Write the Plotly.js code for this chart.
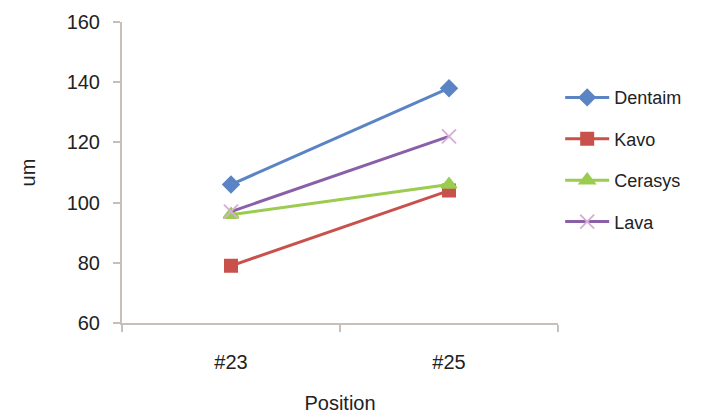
<!DOCTYPE html>
<html>
<head>
<meta charset="utf-8">
<script src="https://cdn.plot.ly/plotly-3.0.1.min.js"></script>
<style>html,body{margin:0;padding:0;background:#fff;}#chart{width:702px;height:417px;}</style>
</head>
<body>
<div id="chart"></div>
<script>
const positions = ["#23", "#25"];
const seriesNames = ["Dentaim", "Kavo", "Cerasys", "Lava"];
const dentaim = [106, 138];
const kavo = [79, 104];
const cerasys = [96, 106];
const lava = [97, 122];
const yTicks = [60, 80, 100, 120, 140, 160];

const styles = [
  {color: "#5B84C4", symbol: "diamond", mcolor: "#5B84C4", size: 12},
  {color: "#C9514B", symbol: "square", mcolor: "#C9514B", size: 12},
  {color: "#9BCB4F", symbol: "triangle-up", mcolor: "#9BCB4F", size: 13},
  {color: "#8A5FA8", symbol: "x-thin-open", mcolor: "#D7AFD6", size: 14}
];
const values = [dentaim, kavo, cerasys, lava];

const traces = values.map((v, i) => ({
  x: positions,
  y: v,
  name: seriesNames[i],
  legendgroup: "g" + i,
  type: "scatter",
  mode: "lines+markers",
  line: {color: styles[i].color, width: 3},
  marker: {symbol: styles[i].symbol, color: styles[i].mcolor, size: styles[i].size,
           line: {color: styles[i].mcolor, width: 2}}
}));

const layout = {
  width: 702, height: 417,
  margin: {l: 122, r: 144, t: 22, b: 94},
  paper_bgcolor: "#fff", plot_bgcolor: "#fff",
  font: {family: "Liberation Sans, Arial, sans-serif", color: "#222", size: 20},
  showlegend: true,
  legend: {x: 1.005, y: 0.81, xanchor: "left", yanchor: "top", tracegroupgap: 15,
           itemwidth: 44,
           font: {size: 18, color: "#222"}, bgcolor: "rgba(0,0,0,0)"},
  xaxis: {
    type: "category", range: [-0.5, 1.5], tickson: "boundaries",
    showgrid: false, zeroline: false, showline: true, linecolor: "#C8C0B8", linewidth: 2,
    ticks: "outside", ticklen: 7, tickcolor: "#C8C0B8", tickwidth: 2,
    ticklabelstandoff: 20,
    tickfont: {size: 20}, fixedrange: true,
    title: {text: "Position", font: {size: 20}, standoff: 24}
  },
  yaxis: {
    range: [60, 160], tickvals: yTicks, showgrid: false, zeroline: false,
    showline: true, linecolor: "#C8C0B8", linewidth: 2,
    ticks: "outside", ticklen: 7, tickcolor: "#C8C0B8", tickwidth: 2,
    ticklabelstandoff: 9,
    tickfont: {size: 20}, fixedrange: true,
    title: {text: "um", font: {size: 20}, standoff: 26}
  }
};

Plotly.newPlot("chart", traces, layout, {displayModeBar: false, staticPlot: true});
</script>
</body>
</html>
